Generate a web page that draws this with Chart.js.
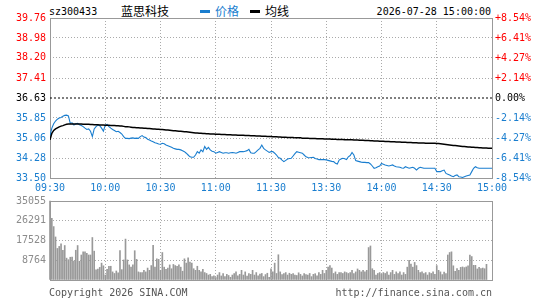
<!DOCTYPE html>
<html>
<head>
<meta charset="utf-8">
<script src="https://cdn.jsdelivr.net/npm/chart.js@4.4.1/dist/chart.umd.min.js"></script>
<style>
body { margin: 0; background: #fff; width: 545px; height: 300px; overflow: hidden; position: relative;
       font-family: "DejaVu Sans Mono", monospace; font-size: 10px; }
canvas { position: absolute; left: 0; }
#priceChart { top: 0; }
#volChart { top: 190px; }
.t { position: absolute; white-space: nowrap; line-height: 12px; }
.cn { font-family: "Noto Sans CJK SC", sans-serif; font-size: 12px; line-height: 14px; }
.dash { position: absolute; width: 10px; height: 3px; }
</style>
</head>
<body>
<div class="t" style="left:49px;top:6px;color:#000">sz300433</div>
<div class="t cn" style="left:121px;top:4px;color:#000">蓝思科技</div>
<div class="dash" style="left:200px;top:10px;background:#1a7ecf"></div>
<div class="t cn" style="left:215px;top:4px;color:#1a7ecf">价格</div>
<div class="dash" style="left:250px;top:10px;background:#000"></div>
<div class="t cn" style="left:265px;top:4px;color:#000">均线</div>
<div class="t" style="right:54px;top:6px;color:#000">2026-07-28 15:00:00</div>

<canvas id="priceChart" width="545" height="196"></canvas>
<canvas id="volChart" width="545" height="100"></canvas>

<div class="t" style="left:49px;top:287px;color:#555">Copyright 2026 SINA.COM</div>
<div class="t" style="right:53px;top:287px;color:#555">http://finance.sina.com.cn</div>

<script>
// price axis and session info
const preClose = 36.63;
const priceTicks = [39.76, 38.98, 38.20, 37.41, 36.63, 35.85, 35.06, 34.28, 33.50];
const pctTicks = [8.54, 6.41, 4.27, 2.14, 0, -2.14, -4.27, -6.41, -8.54];
const timeTicks = [0, 30, 60, 90, 120, 150, 180, 210, 240];
const timeLabels = ['09:30', '10:00', '10:30', '11:00', '11:30', '13:30', '14:00', '14:30', '15:00'];
const volTicks = [35055, 26291, 17528, 8764, 0];

// one value per minute, 09:30 .. 15:00
const price = [
  35.15, 35.45, 35.62, 35.73, 35.80, 35.85, 35.87, 35.92, 35.95, 35.96,
  35.93, 35.64, 35.66, 35.57, 35.62, 35.64, 35.58, 35.55, 35.51, 35.45,
  35.40, 35.42, 35.33, 35.12, 35.42, 35.51, 35.57, 35.55, 35.45, 35.33,
  35.57, 35.60, 35.51, 35.45, 35.40, 35.36, 35.31, 35.33, 35.28, 35.22,
  35.12, 35.05, 35.05, 35.04, 35.06, 35.07, 35.05, 35.06, 35.05, 35.12,
  35.16, 35.10, 35.08, 35.02, 34.99, 34.95, 34.92, 34.88, 34.86, 34.83,
  34.82, 34.86, 34.84, 34.79, 34.76, 34.73, 34.70, 34.66, 34.64, 34.62,
  34.62, 34.60, 34.57, 34.53, 34.47, 34.40, 34.33, 34.31, 34.31, 34.40,
  34.53, 34.47, 34.60, 34.53, 34.73, 34.62, 34.70, 34.60, 34.55, 34.53,
  34.47, 34.50, 34.53, 34.50, 34.47, 34.49, 34.49, 34.47, 34.49, 34.50,
  34.49, 34.47, 34.50, 34.53, 34.53, 34.53, 34.55, 34.57, 34.62, 34.49,
  34.47, 34.47, 34.53, 34.60, 34.66, 34.79, 34.66, 34.60, 34.55, 34.50,
  34.53, 34.53, 34.47, 34.40, 34.30, 34.27, 34.20, 34.14, 34.19, 34.24,
  34.26, 34.27, 34.36, 34.45, 34.53, 34.51, 34.49, 34.47, 34.40, 34.33,
  34.30, 34.29, 34.30, 34.31, 34.26, 34.24, 34.22, 34.22, 34.22, 34.22,
  34.21, 34.19, 34.17, 34.15, 34.14, 34.08, 34.05, 34.20, 34.24, 34.27,
  34.25, 34.22, 34.33, 34.38, 34.50, 34.40, 34.18, 34.16, 34.14, 34.12,
  34.11, 34.11, 34.10, 34.10, 34.05, 33.97, 33.88, 33.90, 33.94, 33.97,
  34.07, 34.04, 34.01, 33.99, 33.97, 33.99, 34.01, 33.97, 33.94, 33.93,
  33.92, 33.89, 33.88, 33.94, 33.91, 33.88, 33.90, 33.92, 33.88, 33.81,
  33.88, 33.92, 33.90, 33.88, 33.88, 33.88, 33.88, 33.88, 33.88, 33.88,
  33.75, 33.75, 33.75, 33.78, 33.81, 33.68, 33.65, 33.62, 33.58, 33.55,
  33.60, 33.62, 33.55, 33.54, 33.52, 33.55, 33.58, 33.60, 33.62, 33.75,
  33.88, 33.94, 33.90, 33.88, 33.88, 33.88, 33.88, 33.88, 33.88, 33.88, 33.88
];

const avgPrice = [
  34.99, 35.25, 35.36, 35.42, 35.46, 35.50, 35.53, 35.55, 35.58, 35.60,
  35.61, 35.61, 35.61, 35.61, 35.61, 35.61, 35.61, 35.61, 35.60, 35.60,
  35.60, 35.60, 35.59, 35.59, 35.58, 35.58, 35.58, 35.57, 35.57, 35.57,
  35.56, 35.56, 35.56, 35.55, 35.55, 35.55, 35.54, 35.54, 35.53, 35.53,
  35.52, 35.51, 35.51, 35.50, 35.49, 35.48, 35.48, 35.47, 35.47, 35.46,
  35.46, 35.45, 35.45, 35.44, 35.44, 35.43, 35.42, 35.42, 35.41, 35.41,
  35.40, 35.40, 35.39, 35.38, 35.38, 35.37, 35.36, 35.35, 35.35, 35.34,
  35.33, 35.33, 35.32, 35.31, 35.31, 35.30, 35.29, 35.28, 35.27, 35.26,
  35.26, 35.25, 35.25, 35.24, 35.24, 35.23, 35.23, 35.22, 35.22, 35.22,
  35.21, 35.21, 35.21, 35.20, 35.20, 35.20, 35.19, 35.19, 35.19, 35.18,
  35.18, 35.18, 35.17, 35.17, 35.17, 35.17, 35.16, 35.16, 35.16, 35.15,
  35.15, 35.15, 35.14, 35.14, 35.14, 35.13, 35.13, 35.13, 35.12, 35.12,
  35.12, 35.11, 35.11, 35.11, 35.10, 35.10, 35.09, 35.09, 35.09, 35.08,
  35.08, 35.08, 35.08, 35.07, 35.07, 35.07, 35.07, 35.06, 35.06, 35.06,
  35.06, 35.05, 35.05, 35.05, 35.05, 35.04, 35.04, 35.04, 35.04, 35.03,
  35.03, 35.03, 35.03, 35.02, 35.02, 35.02, 35.01, 35.01, 35.01, 35.01,
  35.00, 35.00, 35.00, 35.00, 35.00, 34.99, 34.99, 34.99, 34.98, 34.98,
  34.98, 34.97, 34.97, 34.97, 34.96, 34.96, 34.95, 34.95, 34.95, 34.94,
  34.94, 34.94, 34.93, 34.93, 34.93, 34.92, 34.92, 34.92, 34.91, 34.91,
  34.91, 34.90, 34.90, 34.90, 34.89, 34.89, 34.89, 34.88, 34.88, 34.88,
  34.87, 34.87, 34.87, 34.87, 34.86, 34.86, 34.86, 34.86, 34.86, 34.86,
  34.85, 34.85, 34.84, 34.83, 34.82, 34.81, 34.80, 34.79, 34.78, 34.77,
  34.77, 34.76, 34.75, 34.74, 34.73, 34.73, 34.72, 34.71, 34.71, 34.70,
  34.70, 34.69, 34.69, 34.68, 34.68, 34.67, 34.67, 34.67, 34.66, 34.66, 34.66
];

const volume = [
  35055, 27400, 23700, 19100, 14000, 14900, 16000, 13200, 15300, 9700,
  9000, 10100, 10200, 8400, 13200, 15300, 8300, 11100, 12500, 12500,
  11800, 11100, 11100, 18850, 12800, 4500, 4900, 5600, 7500, 6300,
  2200, 4700, 6100, 6100, 3600, 2900, 4000, 3200, 13000, 4600,
  8900, 18150, 8900, 6700, 5700, 6700, 13000, 9150, 3600, 3300,
  3300, 4300, 3600, 5300, 4300, 6400, 15400, 5700, 9400, 9150,
  4300, 12200, 5700, 4700, 5300, 6700, 5000, 6900, 6400, 6100,
  6700, 5700, 3900, 9400, 7500, 9800, 8000, 7500, 5000, 4300,
  6100, 4300, 3600, 4700, 3300, 2900, 2200, 2500, 1500, 1900,
  1100, 2200, 3300, 1800, 2900, 1500, 2500, 2000, 1200, 2200,
  2900, 3600, 1900, 2500, 4300, 2200, 3600, 1700, 2900, 2500,
  4300, 2200, 3300, 1800, 2600, 2900, 1500, 2400, 3000, 1200,
  5000, 3600, 7500, 2900, 11200, 3600, 2400, 2900, 3300, 2200,
  3000, 2500, 2900, 2200, 2000, 3200, 2500, 1800, 2900, 2400,
  2200, 2900, 1500, 2500, 2800, 1900, 3300, 2500, 4300, 2900,
  4300, 5700, 6400, 5300, 2900, 3600, 2500, 3300, 3300, 2900,
  3600, 3300, 2900, 3300, 4300, 2900, 3600, 4900, 4300, 3600,
  4300, 3600, 4300, 14400, 15100, 5000, 4300, 2200, 2900, 3300,
  2500, 3300, 2900, 3600, 2200, 3300, 4300, 2500, 3600, 2900,
  3600, 2200, 3300, 2500, 5700, 8700, 7100, 5700, 7800, 6400,
  4300, 3300, 3600, 2900, 3300, 2200, 3300, 2900, 3600, 2500,
  6400, 4300, 3600, 2400, 3500, 2800, 11100, 12200, 12500, 6300,
  3800, 5100, 4300, 5600, 5800, 5500, 5800, 6300, 11100, 10400,
  6500, 6500, 4900, 5600, 5100, 5300, 5000, 6950, null, null, null
];

const RED = '#ff0000';
const BLUE = '#1a7ecf';
const GRID = '#aaaaaa';
const FONT = { family: 'DejaVu Sans Mono', size: 10 };

const frame = {
  id: 'frame',
  beforeDatasetsDraw(chart) {
    const a = chart.chartArea, c = chart.ctx;
    c.save();
    c.strokeStyle = '#999';
    c.lineWidth = 1;
    c.strokeRect(Math.round(a.left) + 0.5, Math.round(a.top) + 0.5,
                 Math.round(a.right - a.left), Math.round(a.bottom - a.top));
    c.restore();
  }
};

function timeScale(showLabels) {
  return {
    type: 'linear', min: 0, max: 240, offset: false,
    afterBuildTicks: s => { s.ticks = timeTicks.map(v => ({ value: v })); },
    afterFit: s => { s.height = showLabels ? 18 : 0; },
    ticks: {
      display: showLabels, autoSkip: false, maxRotation: 0, padding: 4,
      color: BLUE, font: FONT,
      callback: v => timeLabels[timeTicks.indexOf(v)]
    },
    grid: {
      offset: false, drawTicks: false,
      color: c => (c.index === 0 || c.index === 8) ? 'rgba(0,0,0,0)' : GRID
    },
    border: { display: false, dash: [1, 2] }
  };
}

new Chart(document.getElementById('priceChart'), {
  type: 'line',
  data: {
    datasets: [
      {
        label: '昨收',
        data: [{ x: 0, y: preClose }, { x: 240, y: preClose }],
        borderColor: '#000', borderWidth: 1, borderDash: [2, 2],
        pointRadius: 0, yAxisID: 'y'
      },
      {
        label: '均线',
        data: avgPrice.map((v, i) => ({ x: i, y: v })),
        borderColor: '#000', borderWidth: 1.5,
        pointRadius: 0, yAxisID: 'y'
      },
      {
        label: '价格',
        data: price.map((v, i) => ({ x: i, y: v })),
        borderColor: BLUE, borderWidth: 1.1,
        pointRadius: 0, yAxisID: 'y'
      }
    ]
  },
  options: {
    responsive: false,
    animation: false,
    layout: { padding: { top: 18 } },
    plugins: { legend: { display: false }, tooltip: { enabled: false } },
    scales: {
      x: timeScale(true),
      y: {
        position: 'left', min: 33.50, max: 39.76,
        afterBuildTicks: s => { s.ticks = priceTicks.map(v => ({ value: v })); },
        afterFit: s => { s.width = 50; },
        ticks: {
          padding: 4, font: FONT,
          callback: v => v.toFixed(2),
          color: c => c.tick.value > preClose + 0.001 ? RED
                    : (Math.abs(c.tick.value - preClose) < 0.001 ? '#000' : BLUE)
        },
        grid: {
          drawTicks: false,
          color: c => (c.index === 0 || c.index === 8 || c.index === 4) ? 'rgba(0,0,0,0)' : GRID
        },
        border: { display: false, dash: [1, 2] }
      },
      pct: {
        position: 'right', min: -8.54, max: 8.54,
        afterBuildTicks: s => { s.ticks = pctTicks.map(v => ({ value: v })); },
        afterFit: s => { s.width = 53; },
        ticks: {
          padding: 3, font: FONT,
          callback: v => (v > 0 ? '+' : '') + v.toFixed(2) + '%',
          color: c => c.tick.value > 0 ? RED : (c.tick.value === 0 ? '#000' : BLUE)
        },
        grid: { display: false, drawTicks: false },
        border: { display: false }
      }
    }
  },
  plugins: [frame]
});

new Chart(document.getElementById('volChart'), {
  type: 'bar',
  data: {
    datasets: [{
      label: '成交量',
      data: volume.map((v, i) => ({ x: i, y: v })),
      backgroundColor: '#999',
      barThickness: 1,
      clip: 2
    }]
  },
  options: {
    responsive: false,
    animation: false,
    layout: { padding: { top: 11, bottom: 5, right: 53 } },
    plugins: { legend: { display: false }, tooltip: { enabled: false } },
    scales: {
      x: timeScale(false),
      y: {
        position: 'left', min: 0, max: 35055,
        afterBuildTicks: s => { s.ticks = volTicks.map(v => ({ value: v })); },
        afterFit: s => { s.width = 50; },
        ticks: {
          padding: 4, font: FONT, color: '#8c8c8c',
          callback: v => v === 0 ? '' : String(v)
        },
        grid: {
          drawTicks: false,
          color: c => (c.index === 0 || c.index === 4) ? 'rgba(0,0,0,0)' : GRID
        },
        border: { display: false, dash: [1, 2] }
      }
    }
  },
  plugins: [frame]
});
</script>
</body>
</html>
